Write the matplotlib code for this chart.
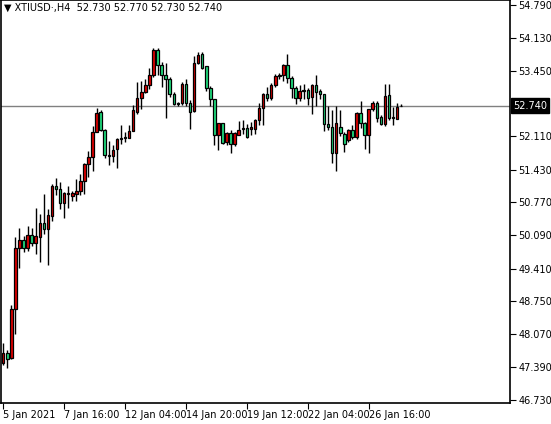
import matplotlib
matplotlib.use("Agg")
import matplotlib.pyplot as plt
import numpy as np

opens = [47.48,47.69,47.57,48.58,49.82,49.99,49.82,50.09,49.93,50.05,50.35,50.21,50.48,51.09,51.03,50.74,50.94,50.90,50.94,51.00,
         51.19,51.55,51.68,52.21,52.61,52.25,51.74,51.72,51.86,52.06,52.08,52.08,52.23,52.61,52.90,53.02,53.16,53.37,53.87,53.57,
         53.37,53.28,52.98,52.80,52.80,53.18,52.80,52.63,53.61,53.79,53.55,53.10,52.88,52.14,52.39,52.00,52.19,51.96,52.14,52.27,
         52.29,52.27,52.27,52.45,52.69,52.98,52.90,53.16,53.35,53.37,53.57,53.30,53.10,52.90,53.04,53.06,52.92,53.16,53.04,52.98,
         52.37,52.31,51.78,52.31,52.17,52.04,52.25,52.10,52.59,52.39,52.14,52.67,52.80,52.51,52.37,52.96,52.49,52.47,52.73]
closes = [47.69,47.55,48.58,49.82,49.99,49.82,50.09,49.93,50.07,50.35,50.21,50.50,51.09,51.03,50.74,50.96,50.96,50.96,51.00,51.19,
          51.55,51.70,52.21,52.59,52.25,51.74,51.72,51.84,52.06,52.08,52.10,52.23,52.65,52.90,53.02,53.16,53.37,53.87,53.57,53.37,
          53.28,52.98,52.77,52.78,53.18,52.80,52.61,53.61,53.77,53.51,53.10,52.88,52.14,52.39,51.98,52.19,51.96,52.19,52.25,52.29,
          52.10,52.31,52.45,52.69,52.98,52.90,53.16,53.35,53.37,53.57,53.30,53.10,52.90,53.04,53.06,52.90,53.16,53.02,52.98,52.37,
          52.31,51.78,52.39,52.19,51.96,52.25,52.10,52.59,52.39,52.14,52.67,52.80,52.49,52.37,52.94,52.49,52.49,52.71,52.74]
highs = [47.89,47.75,48.66,50.05,50.23,50.07,50.27,50.23,50.64,50.52,50.94,50.62,51.13,51.27,51.17,50.98,51.09,51.00,51.23,51.35,
         51.57,51.82,52.33,52.69,52.65,52.27,52.02,51.94,52.08,52.35,52.21,52.35,52.75,53.22,53.24,53.28,53.51,53.92,53.92,53.63,
         53.61,53.32,53.02,52.82,53.22,53.28,52.86,53.75,53.83,53.83,53.55,53.14,52.88,52.39,52.39,52.21,52.25,52.21,52.43,52.45,
         52.37,52.41,52.47,52.79,53.00,53.12,53.20,53.39,53.41,53.59,53.79,53.34,53.14,53.16,53.18,53.10,53.18,53.36,53.08,52.98,
         52.73,52.65,52.73,52.65,52.21,52.27,52.35,52.61,52.84,52.41,52.67,52.84,52.84,52.55,53.18,53.18,52.71,52.79,52.77]
lows = [47.44,47.38,47.55,48.07,49.42,49.74,49.76,49.87,49.70,49.54,50.11,49.48,50.39,50.92,50.62,50.44,50.64,50.80,50.80,50.92,
        50.94,51.29,51.41,52.21,52.23,51.66,51.53,51.59,51.47,51.96,52.00,52.08,52.23,52.57,52.67,53.00,53.08,53.32,53.37,53.12,
        52.49,52.92,52.75,52.73,52.75,52.73,52.27,52.61,53.59,53.49,53.04,52.73,51.94,51.84,51.96,51.94,51.78,51.92,52.14,52.17,
        52.08,52.14,52.17,52.35,52.35,52.84,52.86,53.12,53.28,53.24,53.20,52.90,52.77,52.84,52.88,52.75,52.57,52.73,52.88,52.23,
        52.25,51.57,51.41,52.12,51.80,52.00,52.06,52.06,52.29,51.86,51.78,52.63,52.41,52.35,52.33,52.45,52.35,52.47,52.73]

price_ticks = [54.790,54.130,53.450,52.110,51.430,50.770,50.090,49.410,48.750,48.070,47.390,46.730]
time_labels = ["5 Jan 2021","7 Jan 16:00","12 Jan 04:00","14 Jan 20:00","19 Jan 12:00","22 Jan 04:00","26 Jan 16:00"]
time_idx = [0,15,30,45,60,75,90]
last_price = 52.740
title = "XTIUSD\u00b7,H4  52.730 52.770 52.730 52.740"

W, H = 551, 424
fig = plt.figure(figsize=(W/100, H/100), dpi=100)
ax = fig.add_axes([0.5/W, 1 - 403/H, 509.5/W, 403/H])
n = len(opens)
x = np.arange(n)
o = np.array(opens); c = np.array(closes)
up = c >= o
ax.vlines(x, lows, highs, color="black", lw=1, zorder=2)
bottom = np.minimum(o, c)
height = np.maximum(np.abs(c - o), 0.01)
cols = np.where(up, "#e00000", "#20e080")
ax.bar(x, height, bottom=bottom, width=0.62, color=cols, edgecolor="black", linewidth=0.9, zorder=3)
ax.axhline(last_price, color="#808080", lw=1, zorder=1)

ax.set_xlim(-0.67, 124.8)
ax.set_ylim(46.66, 54.90)
for s in ax.spines.values():
    s.set_linewidth(1.2)
ax.yaxis.tick_right()
ax.set_yticks(price_ticks)
ax.set_yticklabels([f"{v:.3f}" for v in price_ticks], fontsize=7)
ax.tick_params(axis="y", length=4, pad=2)
ax.set_xticks(time_idx)
ax.set_xticklabels(time_labels, fontsize=7, ha="left")
ax.tick_params(axis="x", length=4, pad=1)
for lab in ax.get_xticklabels():
    lab.set_x(0)
ax.text(1.006, last_price, f"{last_price:.3f}", transform=ax.get_yaxis_transform(),
        color="white", fontsize=7, va="center", ha="left",
        bbox=dict(boxstyle="square,pad=0.25", fc="black", ec="black"))
ax.text(0.006, 0.993, "\u25bc " + title, transform=ax.transAxes, fontsize=7, va="top", ha="left")
fig.savefig("out.png", dpi=100)
